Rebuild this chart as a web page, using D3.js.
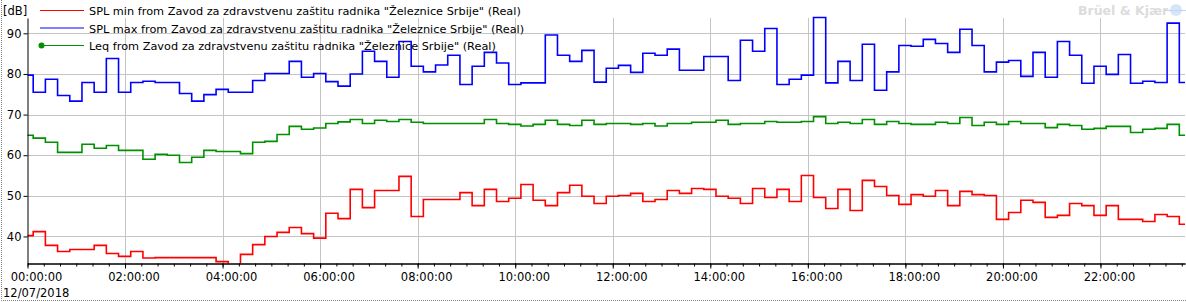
<!DOCTYPE html>
<html>
<head>
<meta charset="utf-8">
<script src="https://cdn.jsdelivr.net/npm/d3@7"></script>
<style>
  body { margin: 0; background: #fff; }
  svg { display: block; }
</style>
</head>
<body>
<div id="chart"></div>
<script>
// data: 15 minute values, first interval starts 23:52 on the previous day
var startTime = new Date(2018, 6, 11, 23, 52);
var stepMinutes = 15;

var splMin = [40.2, 41.2, 37.8, 36.3, 36.8, 36.8, 37.8, 35.8, 35.1, 36.3,
  34.7, 34.8, 34.8, 34.8, 34.8, 34.8, 33.8, 32.8, 35.6, 38.0,
  40.0, 41.0, 42.2, 40.7, 39.6, 45.7, 44.4, 51.6, 47.1, 51.3,
  51.3, 54.8, 44.9, 49.1, 49.1, 49.1, 50.8, 47.6, 51.6, 48.6,
  49.4, 52.8, 48.9, 47.6, 50.8, 52.6, 49.9, 48.1, 49.9, 50.1,
  50.6, 48.6, 49.1, 51.3, 50.6, 51.8, 51.6, 49.9, 49.4, 48.1,
  51.8, 49.6, 51.6, 48.6, 55.0, 49.6, 46.9, 51.6, 46.4, 53.8,
  52.3, 50.1, 47.9, 50.3, 49.9, 51.3, 47.6, 51.1, 50.3, 50.1,
  44.2, 45.9, 48.9, 48.4, 44.7, 45.2, 48.1, 47.6, 45.2, 47.6,
  44.2, 44.2, 43.7, 45.4, 44.9, 43.0];

var splMax = [79.7, 75.5, 78.7, 74.7, 73.3, 77.9, 75.5, 83.8, 75.5, 77.9,
  78.2, 77.9, 77.9, 75.2, 73.3, 74.9, 76.2, 75.5, 75.5, 78.4,
  80.1, 80.1, 83.1, 79.2, 80.1, 78.1, 77.0, 80.0, 85.6, 83.1,
  79.2, 88.0, 81.9, 80.5, 82.2, 84.6, 77.4, 81.9, 85.3, 82.7,
  77.4, 77.8, 77.8, 89.6, 84.6, 83.1, 85.8, 78.0, 81.4, 82.1,
  80.4, 85.1, 84.6, 86.1, 80.9, 80.9, 84.3, 84.3, 78.4, 88.3,
  85.6, 91.2, 77.4, 78.7, 79.7, 93.9, 77.8, 83.1, 78.4, 87.3,
  76.0, 80.5, 87.0, 86.8, 88.5, 87.5, 85.3, 91.0, 87.0, 80.5,
  82.9, 83.3, 79.4, 85.3, 79.2, 88.0, 84.6, 77.7, 81.9, 79.9,
  84.8, 77.7, 78.2, 77.9, 92.5, 77.9];

var leq = [64.9, 64.2, 63.2, 60.7, 60.7, 62.7, 61.7, 62.4, 61.2, 61.2,
  59.0, 60.2, 60.0, 58.2, 59.5, 61.2, 60.9, 60.9, 60.4, 63.2,
  63.4, 65.1, 67.1, 66.4, 66.7, 67.8, 68.2, 68.8, 67.8, 68.6,
  68.3, 68.8, 68.1, 67.8, 67.8, 67.8, 67.8, 67.8, 68.8, 67.8,
  67.6, 67.2, 67.6, 68.6, 67.6, 67.3, 68.6, 67.6, 67.8, 67.8,
  67.6, 67.8, 67.2, 67.8, 67.8, 68.1, 68.1, 68.6, 67.6, 67.8,
  67.8, 68.3, 68.1, 68.1, 68.3, 69.5, 67.8, 68.1, 67.8, 68.8,
  67.6, 68.3, 67.8, 67.6, 67.6, 68.1, 67.8, 69.3, 67.3, 68.1,
  67.6, 68.3, 67.8, 67.8, 66.8, 67.6, 67.3, 66.4, 66.6, 67.1,
  67.1, 65.6, 66.4, 66.6, 67.6, 64.9];

var yTicks = [40, 50, 60, 70, 80, 90];
var seriesNames = [
  'SPL min from Zavod za zdravstvenu zaštitu radnika "Železnice Srbije" (Real)',
  'SPL max from Zavod za zdravstvenu zaštitu radnika "Železnice Srbije" (Real)',
  'Leq from Zavod za zdravstvenu zaštitu radnika "Železnice Srbije" (Real)'
];
var seriesColors = ["#ff0000", "#0000ff", "#009000"];
var dateLabel = "12/07/2018";
var unitLabel = "[dB]";

var width = 1186, height = 302;
var plot = {left: 27.5, right: 1185, top: 18, bottom: 263.5};
var labelFont = "'DejaVu Sans', sans-serif";

var svg = d3.select("#chart")
  .append("svg")
  .attr("width", width)
  .attr("height", height);

// scales
var x = d3.scaleTime()
  .domain([new Date(2018, 6, 12, 0, 0), new Date(2018, 6, 12, 23, 44)])
  .range([plot.left, plot.right]);

var y = d3.scaleLinear()
  .domain([33.35, 93.77])
  .range([plot.bottom, plot.top]);

// dotted frame at left and bottom
svg.append("path")
  .attr("d", "M1.5,0V300.5H" + width)
  .attr("fill", "none")
  .attr("stroke", "#808080")
  .attr("stroke-dasharray", "1,1");

// grid
svg.append("g")
  .selectAll("line")
  .data(yTicks)
  .enter().append("line")
  .attr("x1", plot.left).attr("x2", plot.right)
  .attr("y1", function(d) { return Math.round(y(d)) + 0.5; })
  .attr("y2", function(d) { return Math.round(y(d)) + 0.5; })
  .attr("stroke", "#c4c4c4");

svg.append("g")
  .selectAll("line")
  .data(x.ticks(d3.timeHour.every(2)).slice(1))
  .enter().append("line")
  .attr("x1", function(d) { return Math.round(x(d)) + 0.5; })
  .attr("x2", function(d) { return Math.round(x(d)) + 0.5; })
  .attr("y1", plot.top).attr("y2", plot.bottom)
  .attr("stroke", "#c4c4c4");

// watermark
svg.append("text")
  .attr("x", 1078).attr("y", 15)
  .style("font-family", labelFont)
  .style("font-size", "12.5px")
  .style("font-weight", "bold")
  .attr("fill", "#dcdcdc")
  .text("Brüel & Kjær");
svg.append("circle")
  .attr("cx", 1176).attr("cy", 10).attr("r", 6)
  .attr("fill", "#d6e6f8");
svg.append("line")
  .attr("x1", 1165).attr("x2", 1186).attr("y1", 10.5).attr("y2", 10.5)
  .attr("stroke", "#c0d6f0");

// series lines
svg.append("clipPath").attr("id", "clip")
  .append("rect")
  .attr("x", plot.left).attr("y", 0)
  .attr("width", plot.right - plot.left)
  .attr("height", plot.bottom);

function toPoints(values) {
  var pts = values.map(function(v, i) {
    return {t: d3.timeMinute.offset(startTime, i * stepMinutes), v: v};
  });
  pts.push({t: d3.timeMinute.offset(startTime, values.length * stepMinutes), v: values[values.length - 1]});
  return pts;
}

var line = d3.line()
  .curve(d3.curveStepAfter)
  .x(function(d) { return x(d.t); })
  .y(function(d) { return y(d.v); });

var series = [splMin, splMax, leq];
var lines = svg.append("g").attr("clip-path", "url(#clip)");
series.forEach(function(values, i) {
  lines.append("path")
    .datum(toPoints(values))
    .attr("fill", "none")
    .attr("stroke", seriesColors[i])
    .attr("stroke-width", 1.6)
    .attr("d", line);
});

// y axis
var yAxis = svg.append("g")
  .attr("transform", "translate(" + plot.left + ",0)")
  .call(d3.axisLeft(y).tickValues(yTicks).tickSize(4).tickSizeOuter(0).tickPadding(2));
yAxis.selectAll("text")
  .style("font-family", labelFont)
  .style("font-size", "11.5px")
  .attr("fill", "#000");

// x axis, minor ticks every 20 minutes
svg.append("g")
  .attr("transform", "translate(0," + plot.bottom + ")")
  .call(d3.axisBottom(x).ticks(d3.timeMinute.every(20)).tickSize(3).tickSizeOuter(0).tickFormat(""));

var xAxis = svg.append("g")
  .attr("transform", "translate(0," + plot.bottom + ")")
  .call(d3.axisBottom(x)
    .ticks(d3.timeHour.every(2))
    .tickFormat(d3.timeFormat("%H:%M:%S"))
    .tickSize(5).tickSizeOuter(0).tickPadding(4));
xAxis.selectAll("text")
  .attr("dx", 8.5)
  .style("font-family", labelFont)
  .style("font-size", "11.5px")
  .attr("fill", "#000");

svg.append("text")
  .attr("x", 3).attr("y", 296.5)
  .style("font-family", labelFont)
  .style("font-size", "11.5px")
  .text(dateLabel);

svg.append("text")
  .attr("x", 3).attr("y", 14.5)
  .style("font-family", labelFont)
  .style("font-size", "11.5px")
  .text(unitLabel);

// legend
var legend = svg.append("g");
seriesNames.forEach(function(name, i) {
  var ly = 10.5 + i * 17.5;
  legend.append("line")
    .attr("x1", 40).attr("x2", 84)
    .attr("y1", ly).attr("y2", ly)
    .attr("stroke", seriesColors[i]);
  if (i == 2) {
    legend.append("circle")
      .attr("cx", 41.5).attr("cy", ly).attr("r", 3)
      .attr("fill", seriesColors[i]);
  }
  legend.append("text")
    .attr("x", 89).attr("y", ly + 4.5)
    .style("font-family", labelFont)
    .style("font-size", "11.3px")
    .text(name);
});
</script>
</body>
</html>
